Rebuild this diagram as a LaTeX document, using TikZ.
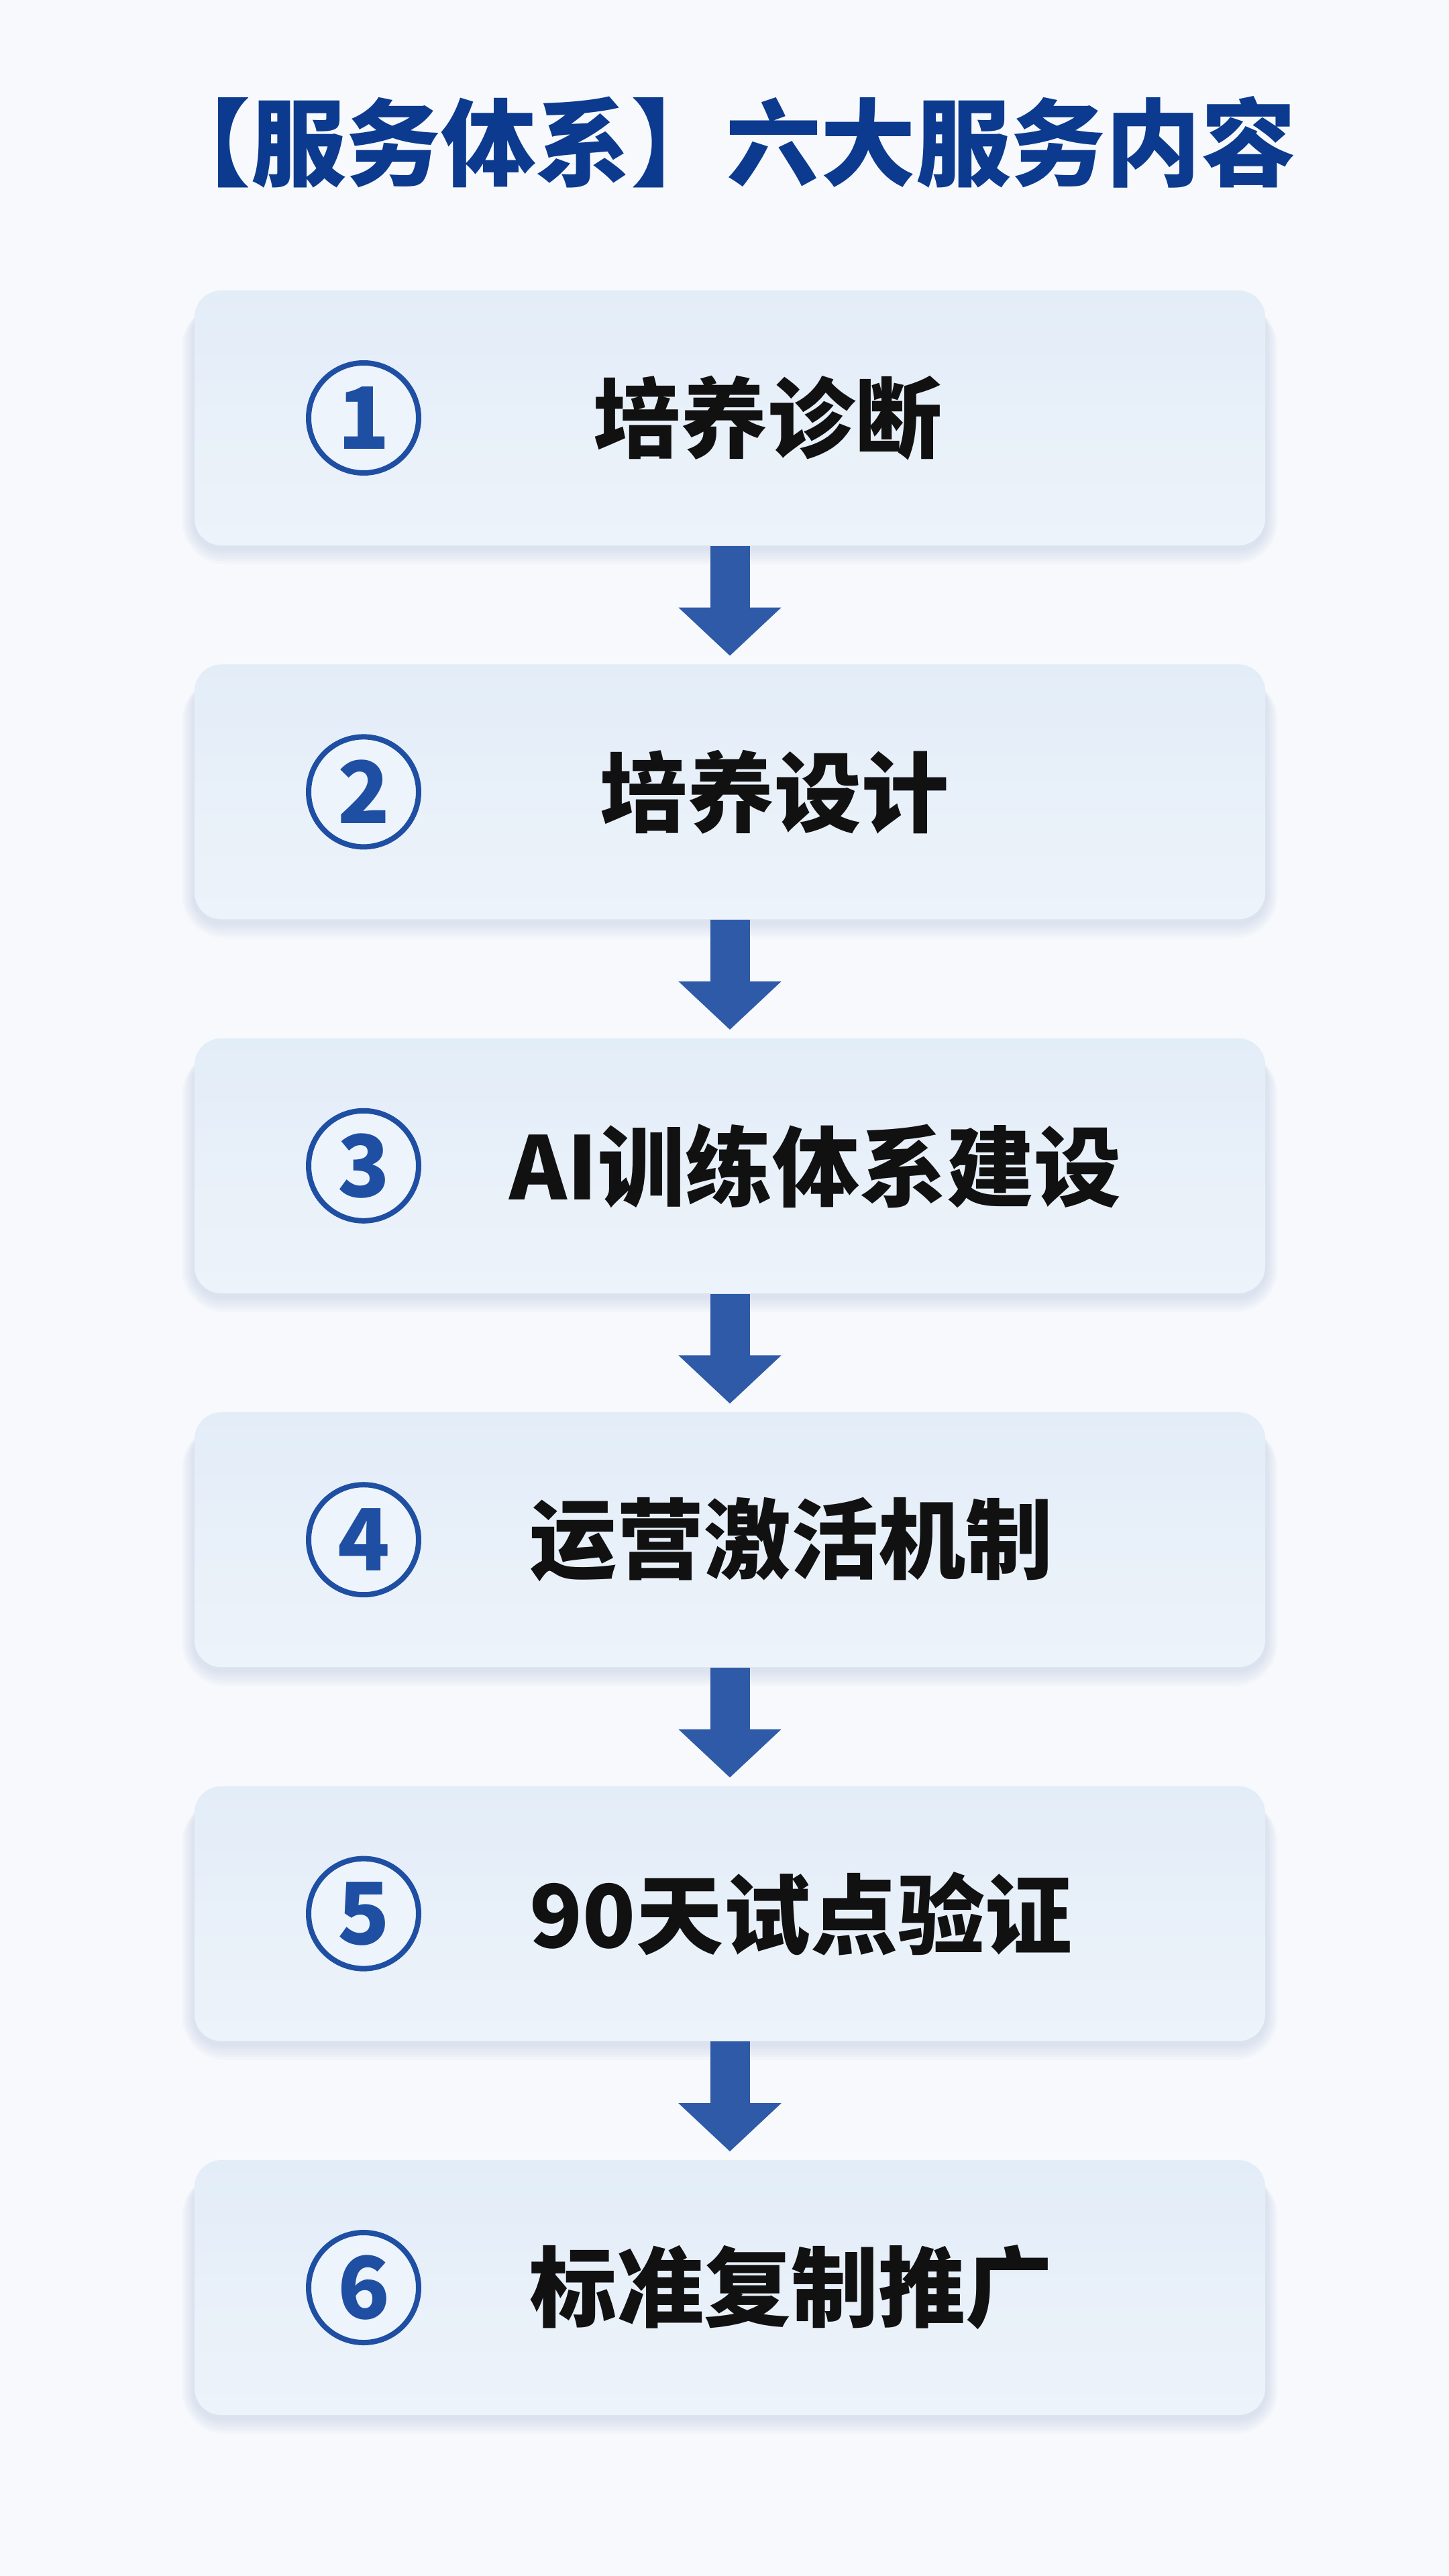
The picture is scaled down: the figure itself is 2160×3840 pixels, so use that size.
\documentclass[tikz,border=0pt]{standalone}
\usepackage{fontspec}
\setmainfont{Noto Sans CJK SC}
\usetikzlibrary{arrows.meta}
\definecolor{bgc}{HTML}{F7F9FC}
\definecolor{boxtop}{HTML}{E3EDF8}
\definecolor{boxbot}{HTML}{EDF3FA}
\definecolor{titlec}{HTML}{0C3A8E}
\definecolor{circc}{HTML}{1E4FA3}
\definecolor{arrowc}{HTML}{2E5AA8}
\definecolor{textc}{HTML}{111111}
\definecolor{shadowc}{HTML}{8FA4CC}
\tikzset{
  x=0.25pt, y=-0.25pt,
  stepbox/.style={rounded corners=10pt, minimum width=399pt, minimum height=95pt,
    top color=boxtop, bottom color=boxbot, draw=none},
  softshadow/.style={fill=shadowc, opacity=0.045, draw=none},
  numcirc/.style={circle, draw=circc, line width=2pt, fill=boxtop!60!white, minimum size=41pt, inner sep=0pt,
    text=circc, font=\fontsize{32}{32}\selectfont\bfseries},
  steplabel/.style={anchor=west, inner sep=0pt, text=textc, font=\fontsize{32.5}{33}\selectfont\bfseries},
  titlelabel/.style={inner sep=0pt, text=titlec, font=\fontsize{35.4}{36}\selectfont\bfseries},
  flowarrow/.style={draw=arrowc, line width=14.75pt, shorten >=3pt,
    -{Triangle[width=37.25pt, length=18pt, fill=arrowc]}}
}
\begin{document}
\begin{tikzpicture}
\fill[bgc] (0,0) rectangle (2160,3840);
\useasboundingbox (0,0) rectangle (2160,3840);
\node[titlelabel] (title) at (1082,212) {【服务体系】六大服务内容};
\foreach \i/\t/\tx in {1/培养诊断/884, 2/培养设计/894, 3/AI训练体系建设/759, 4/运营激活机制/789, 5/90天试点验证/789, 6/标准复制推广/789}{
  \pgfmathsetmacro\cy{623+557.4*(\i-1)}
  \foreach \k in {1,...,6}{
    \fill[softshadow, rounded corners=10pt+\k pt]
      (1088-798.5-\k*3, \cy-190+20) rectangle (1088+798.5+\k*3, \cy+190+4+\k*4);
  }
  \node[stepbox] (b\i) at (1088,\cy) {};
  \node[numcirc] (n\i) at (542,\cy) {\i};
  \node[steplabel] (t\i) at (\tx,\cy) {\t};
}
\foreach \i in {1,...,5}{
  \pgfmathtruncatemacro\j{\i+1}
  \draw[flowarrow] (b\i.south) -- (b\j.north);
}
\end{tikzpicture}
\end{document}
